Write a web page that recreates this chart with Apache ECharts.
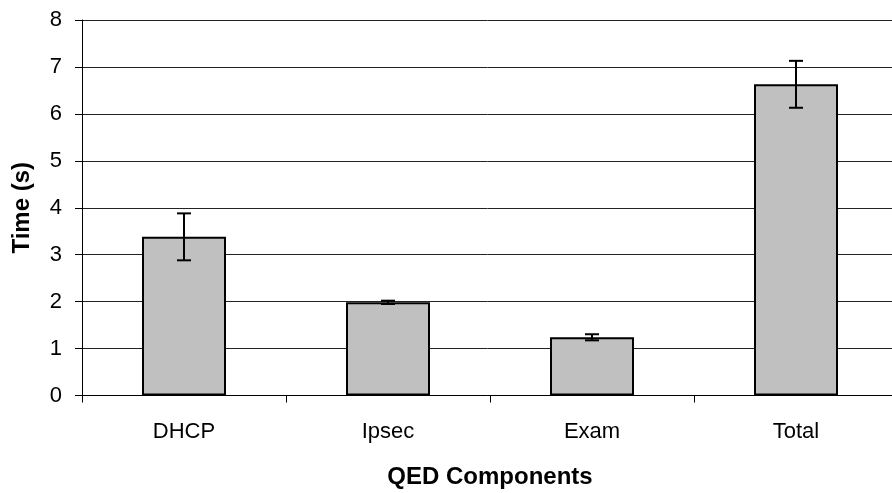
<!DOCTYPE html>
<html>
<head>
<meta charset="utf-8">
<script src="https://cdn.jsdelivr.net/npm/echarts@6/dist/echarts.min.js"></script>
<style>
  html, body { margin: 0; padding: 0; background: #fff; }
  #chart { width: 892px; height: 493px; }
</style>
</head>
<body>
<div id="chart"></div>
<script>
// 数据
var categories = ['DHCP', 'Ipsec', 'Exam', 'Total'];
var times = [3.38, 1.985, 1.24, 6.63];
var errors = [0.5, 0.035, 0.065, 0.5];
var yTicks = [0, 1, 2, 3, 4, 5, 6, 7, 8];

var font = '"Liberation Sans", Arial, sans-serif';
var chart = echarts.init(document.getElementById('chart'));

var errorData = times.map(function (v, i) {
  return [i, v - errors[i], v + errors[i]];
});

var option = {
  animation: false,
  // 右边超出画面一点，与原图一致
  grid: { left: 82, width: 816, top: 20, bottom: 97.5, outerBoundsMode: 'none', containLabel: false },
  xAxis: {
    type: 'category',
    data: categories,
    name: 'QED Components',
    nameLocation: 'middle',
    nameGap: 70,
    nameTextStyle: { fontFamily: font, fontSize: 24, fontWeight: 'bold', color: '#000' },
    axisLine: { lineStyle: { color: '#000', width: 1 } },
    axisTick: { show: true, length: 7, lineStyle: { color: '#000' } },
    axisLabel: { fontFamily: font, fontSize: 22, color: '#000', margin: 25 }
  },
  yAxis: {
    type: 'value',
    min: yTicks[0],
    max: yTicks[yTicks.length - 1],
    interval: 1,
    name: 'Time (s)',
    nameLocation: 'middle',
    nameGap: 48,
    nameRotate: 90,
    nameTextStyle: { fontFamily: font, fontSize: 24, fontWeight: 'bold', color: '#000' },
    axisLine: { show: true, lineStyle: { color: '#000', width: 1 } },
    axisTick: { show: true, length: 7, lineStyle: { color: '#000' } },
    axisLabel: { fontFamily: font, fontSize: 22, color: '#000', margin: 20 },
    splitLine: { show: true, lineStyle: { color: '#222', width: 1 } }
  },
  series: [
    {
      type: 'bar',
      data: times,
      barWidth: 84,
      itemStyle: { color: '#c0c0c0', borderColor: '#000', borderWidth: 2 }
    },
    {
      type: 'custom',
      data: errorData,
      z: 10,
      renderItem: function (params, api) {
        var x = api.value(0);
        var lo = api.coord([x, api.value(1)]);
        var hi = api.coord([x, api.value(2)]);
        var hw = 7;
        var style = { stroke: '#000', lineWidth: 2 };
        return {
          type: 'group',
          children: [
            { type: 'line', shape: { x1: hi[0], y1: hi[1], x2: lo[0], y2: lo[1] }, style: style },
            { type: 'line', shape: { x1: hi[0] - hw, y1: hi[1], x2: hi[0] + hw, y2: hi[1] }, style: style },
            { type: 'line', shape: { x1: lo[0] - hw, y1: lo[1], x2: lo[0] + hw, y2: lo[1] }, style: style }
          ]
        };
      }
    }
  ]
};

chart.setOption(option);
</script>
</body>
</html>
